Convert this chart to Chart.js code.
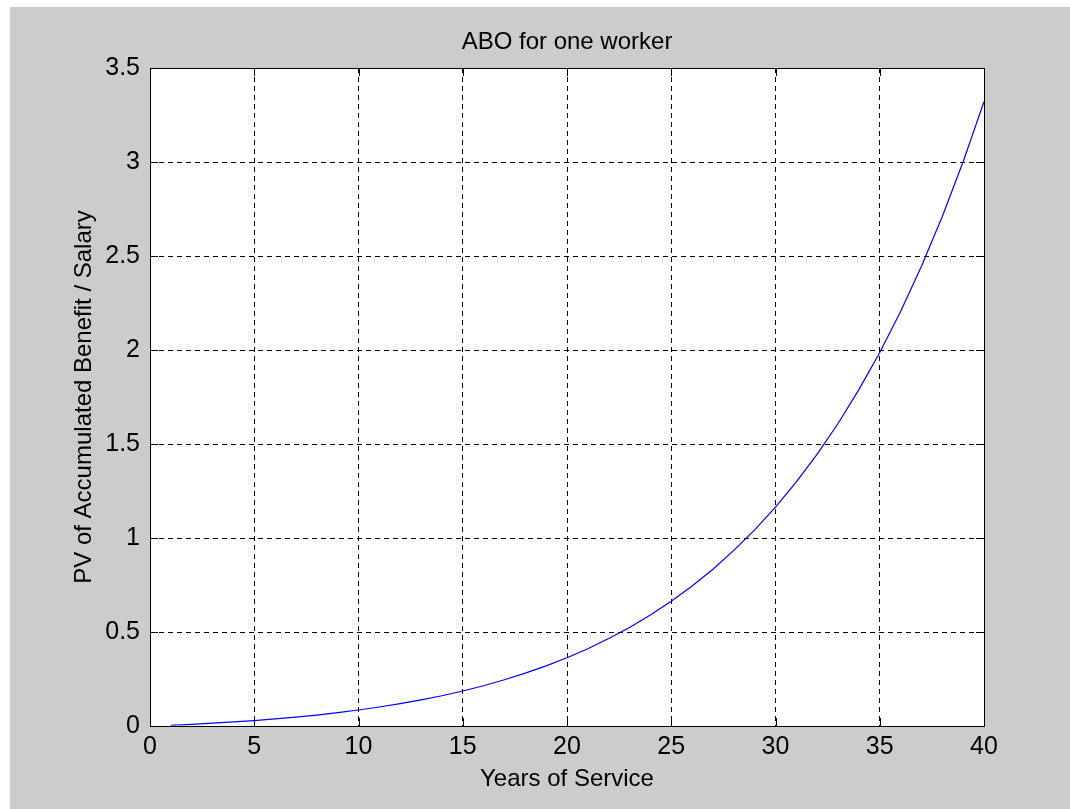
<!DOCTYPE html>
<html>
<head>
<meta charset="utf-8">
<title>ABO for one worker</title>
<script src="https://cdn.jsdelivr.net/npm/chart.js@4/dist/chart.umd.min.js"></script>
<style>
  html, body { margin: 0; padding: 0; background: #ffffff; }
  #wrap { position: absolute; left: 10px; top: 7px; width: 1060px; height: 802px; background: #cccccc; }
</style>
</head>
<body>
<div id="wrap"><canvas id="chartAbo" width="1060" height="802"></canvas></div>
<script>
// ── data ────────────────────────────────────────────────
const years = [1, 2, 3, 4, 5, 6, 7, 8, 9, 10,
               11, 12, 13, 14, 15, 16, 17, 18, 19, 20,
               21, 22, 23, 24, 25, 26, 27, 28, 29, 30,
               31, 32, 33, 34, 35, 36, 37, 38, 39, 40];
const aboRatio = [0.004, 0.009, 0.015, 0.022, 0.029, 0.038, 0.047, 0.058, 0.071, 0.085,
                  0.101, 0.119, 0.139, 0.161, 0.186, 0.214, 0.246, 0.281, 0.320, 0.363,
                  0.411, 0.465, 0.524, 0.590, 0.663, 0.745, 0.834, 0.934, 1.043, 1.164,
                  1.298, 1.446, 1.609, 1.789, 1.987, 2.205, 2.445, 2.710, 3.001, 3.321];
const xTicks = [0, 5, 10, 15, 20, 25, 30, 35, 40];
const yTicks = [0, 0.5, 1, 1.5, 2, 2.5, 3, 3.5];
const chartTitle = 'ABO for one worker';

const FONT = "'Liberation Sans', Arial, Helvetica, sans-serif";
const INK = '#000000';

// box round the axes + small inward ticks, MATLAB style
const boxPlugin = {
  id: 'matlabBox',
  afterDraw(chart) {
    const { ctx, chartArea: a, scales } = chart;
    const len = 8;
    ctx.save();
    ctx.strokeStyle = INK;
    ctx.lineWidth = 1;
    ctx.setLineDash([]);
    ctx.beginPath();
    xTicks.forEach(v => {
      const x = Math.round(scales.x.getPixelForValue(v)) + 0.5;
      ctx.moveTo(x, a.bottom); ctx.lineTo(x, a.bottom - len);
      ctx.moveTo(x, a.top);    ctx.lineTo(x, a.top + len);
    });
    yTicks.forEach(v => {
      const y = Math.round(scales.y.getPixelForValue(v)) + 0.5;
      ctx.moveTo(a.left, y);  ctx.lineTo(a.left + len, y);
      ctx.moveTo(a.right, y); ctx.lineTo(a.right - len, y);
    });
    ctx.stroke();
    ctx.strokeRect(Math.round(a.left) + 0.5, Math.round(a.top) + 0.5,
                   Math.round(a.right - a.left), Math.round(a.bottom - a.top));

    // title centred over the axes, like MATLAB
    ctx.fillStyle = INK;
    ctx.font = '24px ' + FONT;
    ctx.textAlign = 'center';
    ctx.textBaseline = 'middle';
    ctx.fillText(chartTitle, (a.left + a.right) / 2, a.top - 26);
    ctx.restore();
  }
};

// white plot background
const plotBg = {
  id: 'plotBg',
  beforeDraw(chart) {
    const { ctx, chartArea: a } = chart;
    ctx.save();
    ctx.fillStyle = '#ffffff';
    ctx.fillRect(a.left, a.top, a.right - a.left, a.bottom - a.top);
    ctx.restore();
  }
};

Chart.defaults.font.family = FONT;
Chart.defaults.color = INK;

new Chart(document.getElementById('chartAbo'), {
  type: 'line',
  data: {
    datasets: [{
      label: 'ABO',
      data: years.map((y, i) => ({ x: y, y: aboRatio[i] })),
      borderColor: '#0000ff',
      borderWidth: 1.2,
      pointRadius: 0,
      fill: false,
      tension: 0
    }]
  },
  options: {
    responsive: false,
    animation: false,
    layout: { padding: { left: 0, right: 86, top: 61, bottom: 0 } },
    plugins: {
      legend: { display: false },
      tooltip: { enabled: false },
      title: { display: false }
    },
    scales: {
      x: {
        type: 'linear',
        min: 0, max: 40,
        afterFit: s => { s.height = 83; },
        afterBuildTicks: s => { s.ticks = xTicks.map(v => ({ value: v })); },
        ticks: { font: { size: 25 }, color: INK, padding: 6, maxRotation: 0,
                 callback: v => String(v) },
        grid: { color: INK, lineWidth: 1, drawTicks: false },
        border: { display: false, dash: [5, 4] },
        title: {
          display: true, text: 'Years of Service', color: INK,
          font: { size: 24 }, padding: { top: 0, bottom: 15 }
        }
      },
      y: {
        type: 'linear',
        min: 0, max: 3.5,
        afterFit: s => { s.width = 140; },
        afterBuildTicks: s => { s.ticks = yTicks.map(v => ({ value: v })); },
        ticks: { font: { size: 25 }, color: INK, padding: 10,
                 callback: v => String(v) },
        grid: { color: INK, lineWidth: 1, drawTicks: false },
        border: { display: false, dash: [5, 4] },
        title: {
          display: true, text: 'PV of Accumulated Benefit / Salary', color: INK,
          font: { size: 24 }, padding: { top: 60, bottom: 0 }
        }
      }
    }
  },
  plugins: [plotBg, boxPlugin]
});
</script>
</body>
</html>
